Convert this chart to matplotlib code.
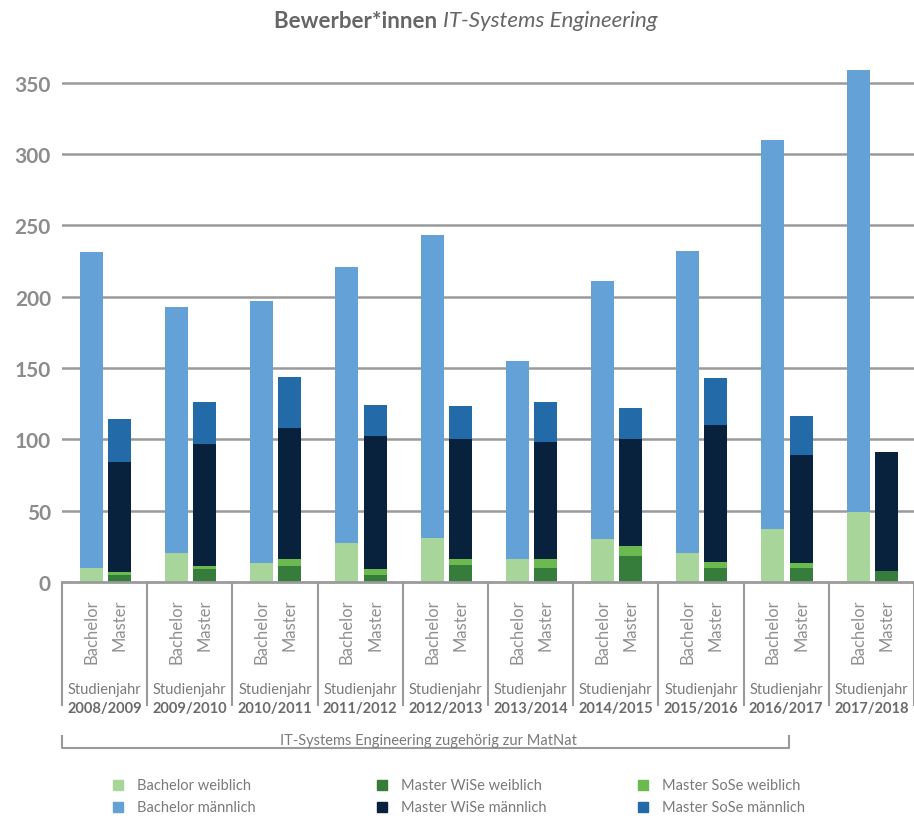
import matplotlib
matplotlib.use("Agg")
import matplotlib.pyplot as plt
from matplotlib.patches import Rectangle
import numpy as np

plt.rcParams['font.family'] = ['Lato', 'DejaVu Sans']

# data
years = ['2008/2009', '2009/2010', '2010/2011', '2011/2012', '2012/2013',
         '2013/2014', '2014/2015', '2015/2016', '2016/2017', '2017/2018']
bachelor_w = [10, 20, 13, 27, 31, 16, 30, 20, 37, 49]
bachelor_m = [221, 173, 184, 194, 212, 139, 181, 212, 273, 310]
master_wise_w = [5, 9, 11, 5, 12, 10, 18, 10, 10, 8]
master_sose_w = [2, 2, 5, 4, 4, 6, 7, 4, 3, 0]
master_wise_m = [77, 86, 92, 93, 84, 82, 75, 96, 76, 83]
master_sose_m = [30, 29, 36, 22, 23, 28, 22, 33, 27, 0]
yticks = [0, 50, 100, 150, 200, 250, 300, 350]

c_bw = '#a8d59a'
c_bm = '#64a1d7'
c_mww = '#367c3a'
c_msw = '#6aba4f'
c_mwm = '#08213c'
c_msm = '#226aa8'
grey = '#9a9a9a'
txt = '#7a7a7a'

W, H = 914, 820
fig = plt.figure(figsize=(W / 100, H / 100), dpi=100)
ax = fig.add_axes([62 / W, 1 - 583 / H, 852 / W, (583 - 55) / H])

n = len(years)
x = np.arange(n)
xb = x + 0.345
xm = x + 0.675
bw = 0.27

ax.bar(xb, bachelor_w, bw, color=c_bw, zorder=3)
ax.bar(xb, bachelor_m, bw, bottom=bachelor_w, color=c_bm, zorder=3)

bottom = np.zeros(n)
for vals, col in [(master_wise_w, c_mww), (master_sose_w, c_msw),
                  (master_wise_m, c_mwm), (master_sose_m, c_msm)]:
    ax.bar(xm, vals, bw, bottom=bottom, color=col, zorder=3)
    bottom += np.array(vals)

ax.set_xlim(0, n)
ax.set_ylim(0, 370)
ax.set_yticks(yticks)
ax.set_yticklabels([str(t) for t in yticks], fontsize=15, fontweight='bold', color='#8c8c8c')
ax.tick_params(axis='y', length=0, pad=8)
ax.set_xticks([])
for s in ax.spines.values():
    s.set_visible(False)
for t in yticks[1:]:
    ax.axhline(t, color=grey, lw=1.8, zorder=1)
ax.axhline(0, color=grey, lw=2, zorder=4, clip_on=False)

# category boxes below the axis
ax.vlines(np.arange(n + 1), -87, 0, color=grey, lw=1.5, clip_on=False)
for i in range(n):
    ax.text(xb[i], -11.5, 'Bachelor', rotation=90, ha='center', va='top',
            fontsize=12, color='#909090', clip_on=False)
    ax.text(xm[i], -11.5, 'Master', rotation=90, ha='center', va='top',
            fontsize=12, color='#909090', clip_on=False)
    ax.text(i + 0.5, -75, 'Studienjahr', ha='center', va='center',
            fontsize=10.5, color=txt, clip_on=False)
    ax.text(i + 0.5, -88, years[i], ha='center', va='center',
            fontsize=10.5, fontweight='bold', color='#6a6a6a', clip_on=False)

# bracket for MatNat years
bx1 = 8.53
ax.plot([0, 0, bx1, bx1], [-108, -116, -116, -108], color=grey, lw=1.5, clip_on=False)
ax.text(4.3, -110.5, 'IT-Systems Engineering zugehörig zur MatNat', ha='center', va='center',
        fontsize=10.5, color=txt, clip_on=False)

# legend
leg = [(113, 786, c_bw, 'Bachelor weiblich'), (113, 808, c_bm, 'Bachelor männlich'),
       (377, 786, c_mww, 'Master WiSe weiblich'), (377, 808, c_mwm, 'Master WiSe männlich'),
       (638, 786, c_msw, 'Master SoSe weiblich'), (638, 808, c_msm, 'Master SoSe männlich')]
for px, py, col, lab in leg:
    fig.add_artist(Rectangle((px / W, 1 - (py + 5) / H), 10 / W, 10 / H,
                             transform=fig.transFigure, color=col))
    fig.text((px + 24) / W, 1 - py / H, lab, ha='left', va='center', fontsize=10.5, color=txt)

# title: bold part + italic part, centred together
r = fig.canvas.get_renderer()
t1 = fig.text(0, 1 - 21 / H, 'Bewerber*innen ', fontsize=16, fontweight='bold', color='#666666', va='center')
t2 = fig.text(0, 1 - 21 / H, 'IT-Systems Engineering', fontsize=16, style='italic', color='#666666', va='center')
w1 = t1.get_window_extent(r).width
w2 = t2.get_window_extent(r).width
x0 = 466 - (w1 + w2) / 2
t1.set_x(x0 / W)
t2.set_x((x0 + w1) / W)

fig.savefig('out.png', dpi=100)
